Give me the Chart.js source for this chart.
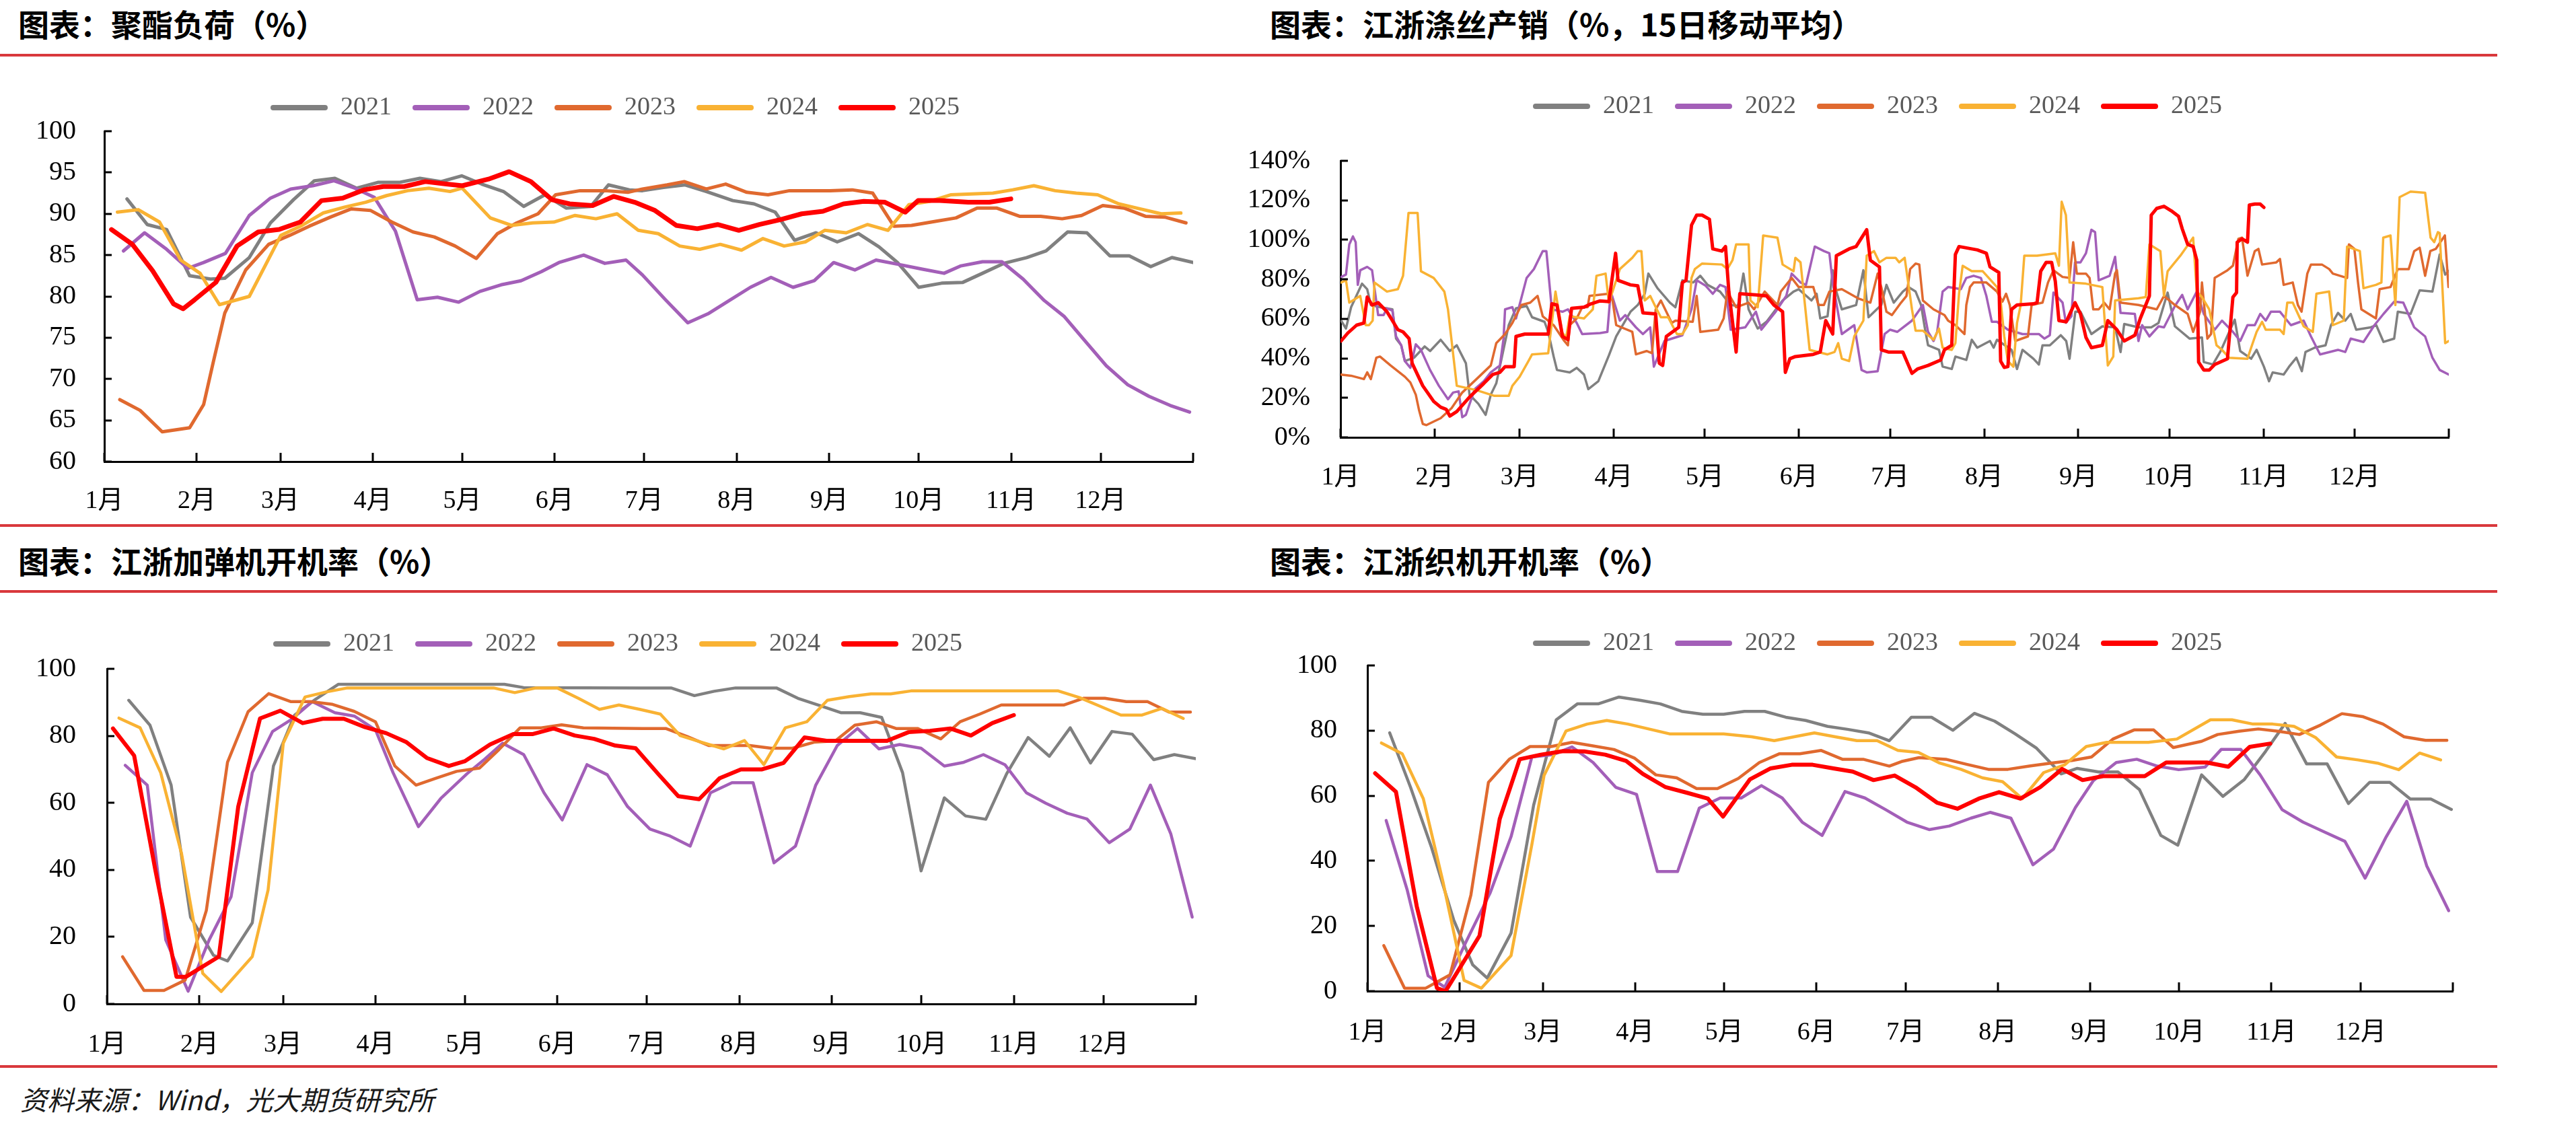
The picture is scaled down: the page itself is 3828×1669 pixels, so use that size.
<!DOCTYPE html>
<html><head><meta charset="utf-8">
<script src="https://cdn.jsdelivr.net/npm/chart.js@4.4.1/dist/chart.umd.min.js"></script>
<style>
html,body{margin:0;padding:0;background:#fff;}
body{width:3828px;height:1669px;position:relative;overflow:hidden;font-family:'Noto Sans CJK SC',sans-serif;}
.title{position:absolute;font-weight:700;font-size:46px;line-height:46px;color:#000;white-space:nowrap;}
.rule{position:absolute;left:0;width:3711px;height:4px;background:#D9383C;}
.src{position:absolute;left:30px;top:1612px;font-size:40px;line-height:42px;font-style:italic;color:#1a1a1a;white-space:nowrap;}
canvas{position:absolute;}
</style></head><body>
<div class="title" style="left:27px;top:11px">图表：聚酯负荷（%）</div>
<div class="title" style="left:1887px;top:11px">图表：江浙涤丝产销（%，15日移动平均）</div>
<div class="title" style="left:27px;top:809px">图表：江浙加弹机开机率（%）</div>
<div class="title" style="left:1887px;top:809px">图表：江浙织机开机率（%）</div>
<div class="rule" style="top:80px"></div>
<div class="rule" style="top:779px"></div>
<div class="rule" style="top:877px"></div>
<div class="rule" style="top:1583px"></div>
<div class="src">资料来源：Wind，光大期货研究所</div>
<canvas id="c1" width="1754" height="676" style="left:47px;top:100px"></canvas>
<canvas id="c2" width="1818" height="640" style="left:1850px;top:100px"></canvas>
<canvas id="c3" width="1767" height="682" style="left:40px;top:900px"></canvas>
<canvas id="c4" width="1796" height="663" style="left:1880px;top:900px"></canvas>
<script>
// ---------- shared ----------
const years = ['2021','2022','2023','2024','2025'];
const yearColors = ['#808080','#A35FB8','#E0692F','#F9B233','#FF0000'];
const monthLabels = ['1月','2月','3月','4月','5月','6月','7月','8月','9月','10月','11月','12月'];
const monthStarts = [0,31,59,90,120,151,181,212,243,273,304,334,365];

// ---------- 聚酯负荷 (%), [day of year, value] ----------
const pl2021 = [[7.6,91.8],[14.4,88.7],[20.9,88.1],[28.6,82.5],[35.6,82.1],[40.4,82.2],[48.6,84.7],[55.7,88.9],[63.4,91.7],[70.4,94.0],[77.3,94.3],[84.6,93.1],[91.7,93.8],[98.8,93.8],[105.8,94.3],[112.9,93.9],[119.8,94.6],[126.5,93.6],[133.8,92.7],[140.6,90.9],[147.7,92.3],[154.8,90.7],[163.1,90.9],[169.0,93.5],[176.0,92.9],[180.4,92.8],[187.5,93.2],[194.7,93.5],[201.8,92.7],[210.7,91.6],[217.8,91.2],[224.9,90.2],[231.4,86.8],[238.6,87.7],[245.7,86.6],[252.8,87.6],[259.7,86.0],[265.9,84.1],[273.0,81.1],[280.7,81.6],[287.8,81.7],[294.4,82.8],[301.5,84.0],[309.2,84.7],[315.7,85.5],[322.9,87.8],[329.4,87.7],[337.1,84.9],[343.6,84.9],[350.8,83.6],[357.9,84.7],[365,84.1]];
const pl2022 = [[6.4,85.5],[13.5,87.7],[20.9,85.7],[28.0,83.4],[33.3,84.1],[40.6,85.2],[48.6,89.8],[55.7,91.9],[62.5,93.0],[69.9,93.4],[77.0,94.0],[84.0,93.1],[90.5,92.0],[97.6,87.9],[104.9,79.6],[111.7,79.9],[118.8,79.3],[125.9,80.6],[133.0,81.4],[139.7,81.9],[146.5,83.0],[152.4,84.1],[160.7,85.0],[167.8,84.0],[174.9,84.4],[180.4,82.6],[188.1,79.6],[195.6,76.8],[202.4,77.9],[209.5,79.5],[216.6,81.1],[223.5,82.3],[230.9,81.1],[238.0,81.9],[244.5,84.1],[251.6,83.2],[258.7,84.4],[265.9,83.9],[274.2,83.3],[281.5,82.8],[287.2,83.7],[294.4,84.2],[300.9,84.2],[308.0,82.1],[315.1,79.5],[321.7,77.6],[328.8,74.6],[335.9,71.6],[343.1,69.3],[350.2,67.9],[357.3,66.8],[363.8,66.0]];
const pl2023 = [[5.2,67.5],[12.0,66.2],[19.4,63.6],[28.6,64.1],[33.3,66.9],[36.5,72.0],[40.4,78.0],[47.4,83.2],[55.1,86.3],[62.2,87.4],[68.7,88.5],[75.8,89.6],[82.8,90.6],[89.3,90.4],[96.4,89.0],[103.5,87.8],[110.6,87.2],[117.6,86.1],[124.7,84.6],[131.8,87.6],[138.3,88.9],[145.4,90.0],[151.3,92.3],[159.5,92.8],[167.8,92.8],[175.5,92.6],[180.4,93.0],[188.7,93.5],[194.4,93.9],[201.8,93.0],[208.3,93.6],[215.4,92.6],[222.5,92.3],[229.7,92.8],[236.8,92.8],[243.3,92.8],[250.7,92.9],[257.6,92.5],[264.7,88.5],[270.6,88.6],[278.9,89.1],[285.5,89.5],[292.6,90.7],[299.1,90.7],[306.8,89.7],[313.9,89.7],[321.1,89.4],[327.6,89.8],[334.7,91.0],[341.8,90.7],[349.0,89.7],[355.5,89.6],[362.6,88.9]];
const pl2024 = [[4.4,90.2],[11.4,90.5],[18.5,89.0],[25.6,84.4],[32.1,82.8],[38.6,79.0],[48.6,80.0],[59.2,87.4],[66.3,88.6],[73.4,90.1],[80.5,90.8],[87.6,91.4],[94.6,92.2],[101.7,92.8],[108.8,93.1],[115.9,92.7],[120.0,93.1],[129.4,89.5],[136.5,88.6],[143.6,88.9],[150.7,89.0],[157.8,89.8],[164.8,89.4],[171.9,90.0],[179.0,88.0],[185.7,87.6],[192.9,86.1],[199.6,85.7],[206.5,86.3],[213.6,85.6],[220.8,87.0],[227.9,86.1],[235.0,86.6],[241.5,88.0],[248.7,87.7],[255.8,88.7],[262.7,88.0],[269.7,91.1],[276.6,91.5],[283.7,92.3],[290.8,92.4],[297.9,92.5],[304.5,92.9],[311.6,93.4],[318.7,92.8],[325.8,92.5],[333.0,92.3],[340.1,91.2],[347.2,90.6],[354.3,90.0],[360.9,90.1]];
const pl2025 = [[2.4,88.1],[9.4,86.3],[16.2,83.1],[23.2,79.1],[26.4,78.5],[30.3,79.6],[37.4,81.7],[44.5,86.1],[51.6,87.8],[58.6,88.1],[65.7,89.0],[72.8,91.6],[79.9,91.9],[87.0,92.9],[93.5,93.3],[100.5,93.3],[107.6,93.9],[114.7,93.6],[120.0,93.4],[128.8,94.2],[135.7,95.1],[143.0,93.9],[150.1,91.7],[156.0,91.2],[163.7,91.0],[170.7,92.1],[177.8,91.4],[184.6,90.4],[191.7,88.6],[198.8,88.2],[205.6,88.7],[212.7,88.0],[219.6,88.7],[226.7,89.3],[233.8,90.0],[240.9,90.3],[247.8,91.2],[254.6,91.5],[261.7,91.4],[268.5,90.2],[272.8,91.6],[280.1,91.6],[289.6,91.4],[296.7,91.4],[303.9,91.8]];

// ---------- 江浙涤丝产销 (%, 15日移动平均) ----------
const sx2021 = [[0.2,59.1],[1.8,55.1],[3.5,65.9],[7.1,77.8],[8.8,75.0],[10.0,67.0],[13.0,65.9],[17.1,64.8],[18.3,50.0],[20.0,46.6],[21.2,38.6],[24.2,40.3],[27.7,46.0],[29.5,43.7],[33.0,49.4],[36.0,43.7],[38.3,46.6],[41.3,37.5],[42.5,21.6],[45.4,17.0],[47.8,11.4],[49.5,21.6],[51.3,27.3],[55.4,56.8],[57.8,65.3],[61.3,66.5],[63.1,60.8],[67.2,58.5],[68.4,53.4],[70.2,40.9],[71.3,34.1],[75.5,32.9],[77.8,35.2],[80.2,31.8],[81.6,24.4],[84.9,28.4],[88.4,41.5],[90.8,51.1],[95.5,63.6],[97.9,67.0],[100.2,72.7],[101.4,82.9],[104.4,75.5],[108.5,68.2],[110.3,65.9],[112.6,79.5],[116.2,78.4],[118.5,81.8],[120.9,77.2],[125.0,73.8],[128.5,67.0],[130.9,66.5],[132.7,82.9],[134.4,64.8],[137.4,55.1],[140.3,58.5],[145.6,69.3],[149.2,73.8],[150.9,75.0],[155.1,69.3],[156.8,72.7],[158.0,60.2],[160.4,61.3],[162.1,84.6],[163.3,73.8],[165.1,64.8],[169.8,67.0],[172.2,84.6],[173.9,60.8],[178.1,67.0],[179.8,77.2],[182.2,68.2],[185.2,73.8],[187.0,76.1],[189.4,73.8],[191.2,67.0],[192.4,55.7],[193.5,46.6],[197.1,44.3],[198.3,35.8],[201.3,34.6],[202.5,40.9],[206.1,39.2],[207.9,49.4],[209.7,45.4],[213.9,48.8],[215.1,45.4],[216.2,49.4],[221.0,44.3],[222.8,34.6],[224.6,44.3],[228.2,39.8],[230.0,36.9],[231.2,46.6],[233.6,46.6],[237.2,51.7],[239.0,48.8],[240.1,39.8],[242.0,63.6],[243.7,63.6],[247.3,52.3],[250.9,56.2],[255.1,55.7],[256.9,43.2],[258.1,57.4],[262.8,55.7],[267.0,55.7],[269.4,57.9],[272.4,73.3],[274.8,56.2],[279.6,50.0],[283.7,50.6],[284.3,38.1],[287.3,36.9],[289.7,43.2],[294.5,59.6],[296.3,43.7],[299.9,39.8],[301.7,44.3],[304.1,35.8],[305.8,28.4],[307.0,32.9],[310.6,31.8],[312.4,35.8],[314.8,40.3],[316.6,33.5],[317.8,43.2],[320.8,45.4],[324.4,46.6],[326.2,56.8],[328.5,63.0],[330.9,59.1],[332.7,62.5],[334.5,54.5],[339.3,55.7],[341.1,56.8],[343.5,48.3],[347.0,50.0],[348.2,63.6],[352.4,62.5],[355.4,74.4],[359.6,73.8],[362.0,92.6],[363.8,82.4],[365,84.3]];
const sx2022 = [[0.2,81.2],[1.8,82.4],[2.9,97.7],[4.1,101.7],[5.0,98.8],[5.7,77.2],[6.5,84.6],[8.8,86.3],[10.4,84.6],[12.4,61.9],[14.2,61.9],[15.3,65.3],[17.1,64.2],[18.3,51.1],[20.0,46.6],[21.2,38.6],[23.0,35.2],[24.8,47.1],[26.5,44.3],[29.5,34.1],[32.4,26.1],[35.4,19.3],[37.1,22.7],[38.9,23.3],[40.1,10.2],[41.3,11.4],[44.2,24.4],[47.2,28.4],[49.5,32.9],[52.5,36.4],[53.7,50.0],[54.2,64.8],[56.6,65.9],[57.8,60.2],[61.3,80.7],[63.7,85.2],[66.6,94.3],[67.8,94.3],[69.6,64.8],[73.1,63.6],[74.9,64.8],[77.8,57.9],[79.6,52.3],[85.5,52.8],[87.9,53.4],[89.0,73.8],[92.0,59.1],[93.8,61.9],[97.3,55.7],[99.6,52.3],[102.0,55.7],[103.2,35.8],[106.7,48.8],[112.6,51.7],[115.6,64.8],[117.3,79.5],[120.3,76.7],[122.6,72.7],[125.0,77.2],[126.8,76.1],[128.5,54.5],[133.3,55.7],[136.8,63.6],[138.6,54.5],[143.3,63.6],[146.8,71.6],[148.6,82.9],[151.5,78.4],[153.3,77.2],[156.2,96.6],[159.2,94.3],[161.0,93.2],[162.1,78.4],[165.1,52.3],[169.2,56.8],[171.6,34.1],[173.3,32.9],[176.9,33.5],[179.2,52.3],[181.0,54.5],[183.4,53.4],[188.2,59.1],[191.8,67.0],[193.5,53.4],[195.3,48.8],[196.5,53.4],[198.3,73.8],[200.1,76.1],[204.3,75.0],[206.1,80.7],[208.5,81.8],[210.9,80.7],[212.7,71.6],[214.5,58.5],[216.2,58.5],[219.8,54.5],[224.6,52.3],[230.0,52.3],[231.8,50.0],[233.6,51.7],[234.8,73.3],[237.8,68.2],[238.9,58.0],[240.7,61.3],[241.9,88.6],[243.7,88.6],[245.5,93.2],[247.3,105.1],[248.5,103.9],[249.7,79.5],[253.3,81.8],[255.1,91.4],[256.9,63.0],[261.6,62.5],[262.8,48.8],[264.0,56.8],[266.4,51.1],[269.4,56.2],[271.2,55.7],[274.8,66.5],[277.2,72.1],[279.0,64.8],[282.0,73.8],[284.3,62.5],[287.9,54.5],[290.3,59.1],[293.9,53.4],[296.3,48.8],[298.7,56.8],[301.1,56.8],[302.9,62.5],[304.7,59.1],[306.4,63.6],[309.4,63.6],[313.0,56.8],[317.2,59.1],[319.6,51.1],[322.6,42.0],[328.5,44.3],[330.9,43.2],[332.7,50.0],[336.9,48.3],[340.5,56.8],[343.5,62.5],[347.0,68.7],[350.0,68.2],[353.6,55.7],[357.2,51.1],[359.6,40.3],[362.0,34.1],[365.0,31.8]];
const sx2023 = [[0.2,31.8],[3.5,31.2],[7.7,29.5],[8.8,32.9],[10.0,29.5],[11.8,40.3],[13.0,40.9],[16.5,36.4],[21.2,30.7],[23.0,27.8],[24.8,21.6],[25.9,13.6],[27.1,6.8],[28.3,6.2],[30.7,8.0],[33.0,9.7],[36.6,14.8],[40.1,22.7],[44.8,29.5],[49.5,36.4],[51.3,47.7],[54.2,52.3],[56.6,57.9],[59.6,67.0],[62.5,68.2],[64.9,71.6],[66.6,61.3],[70.2,56.8],[73.7,48.8],[74.9,46.6],[75.5,56.8],[77.8,60.2],[79.6,65.9],[81.4,65.9],[82.0,71.6],[88.4,72.7],[89.6,69.3],[90.8,56.8],[96.1,53.4],[97.3,42.0],[100.8,43.7],[102.6,42.6],[103.8,64.8],[105.5,69.3],[109.1,57.9],[110.3,59.1],[116.0,58.5],[117.3,71.6],[118.5,53.4],[124.4,54.5],[126.2,60.2],[127.4,73.8],[130.3,65.9],[134.4,68.2],[136.2,64.8],[139.7,73.8],[143.9,67.0],[145.0,73.8],[148.6,80.7],[150.9,76.1],[155.7,76.1],[157.4,67.0],[159.2,67.0],[161.0,73.8],[165.1,75.0],[170.4,70.4],[174.5,68.2],[176.9,82.9],[178.1,76.1],[179.8,63.6],[181.6,61.9],[184.6,68.2],[186.4,71.6],[187.6,85.2],[189.4,88.0],[190.6,87.5],[191.8,69.3],[195.3,64.8],[198.9,61.9],[200.1,59.1],[202.5,56.8],[205.5,52.3],[206.1,67.0],[207.3,76.1],[208.5,78.4],[212.7,78.4],[216.2,73.8],[218.0,68.7],[219.2,72.7],[220.4,67.0],[222.2,48.8],[226.4,51.1],[227.6,67.0],[231.2,68.2],[233.0,78.4],[234.8,84.6],[237.8,81.2],[240.1,80.7],[241.3,98.8],[242.5,82.9],[245.5,82.9],[246.7,80.7],[247.9,64.8],[249.7,64.8],[251.5,68.2],[253.3,64.8],[255.1,82.9],[255.7,84.6],[256.9,68.2],[262.8,67.0],[268.8,64.8],[271.2,71.6],[274.8,67.0],[279.0,62.5],[280.8,53.4],[283.1,63.6],[283.7,78.4],[285.5,50.0],[286.7,52.3],[287.9,80.7],[292.1,84.6],[293.9,86.9],[295.7,100.5],[296.9,101.1],[298.7,81.8],[301.1,94.3],[302.3,95.4],[303.5,87.5],[308.2,88.6],[309.4,90.3],[310.6,77.2],[313.6,78.4],[315.3,67.0],[316.5,63.6],[318.4,82.9],[319.6,87.5],[323.2,87.5],[325.6,85.2],[326.8,82.9],[331.5,80.7],[332.1,97.7],[333.9,95.4],[335.1,78.4],[336.2,64.8],[341.0,60.2],[342.2,75.0],[345.8,76.1],[348.2,85.2],[351.8,85.2],[353.6,94.3],[355.4,96.0],[357.2,81.8],[358.9,94.3],[360.7,95.4],[363.7,102.2],[364.9,76.1]];
const sx2024 = [[0.2,78.4],[1.8,79.5],[2.9,68.2],[6.5,71.6],[8.3,56.8],[9.4,56.8],[10.6,59.1],[11.2,78.4],[15.3,73.8],[18.9,75.0],[20.6,81.8],[22.4,113.6],[25.4,113.6],[26.5,84.1],[30.7,80.7],[34.2,73.8],[35.4,64.8],[36.6,48.8],[38.3,26.1],[44.8,23.9],[50.7,21.0],[55.4,21.0],[56.6,26.1],[59.0,30.7],[61.9,38.6],[63.1,42.0],[68.4,42.6],[69.6,57.9],[70.8,73.8],[73.1,52.8],[74.3,50.6],[75.5,61.3],[80.2,60.2],[83.1,64.8],[84.3,81.8],[87.3,82.9],[88.4,68.2],[92.0,85.2],[96.1,90.9],[97.9,94.3],[99.1,94.3],[100.2,69.3],[102.0,71.6],[103.8,65.9],[105.5,60.8],[107.9,60.8],[110.8,52.3],[112.6,52.3],[114.4,56.8],[115.6,80.7],[116.7,85.2],[119.1,88.0],[125.6,87.5],[127.4,85.2],[129.1,89.7],[130.3,97.7],[134.4,97.7],[135.0,69.3],[137.4,65.9],[139.2,102.2],[143.9,101.1],[145.6,87.5],[149.2,84.1],[149.8,90.9],[151.5,88.6],[154.5,44.3],[160.4,42.0],[162.7,43.2],[163.9,47.7],[165.1,39.8],[167.5,38.6],[169.2,51.1],[172.2,59.1],[173.3,92.0],[175.7,94.3],[177.5,88.6],[179.8,90.9],[182.8,90.9],[184.0,88.6],[185.8,90.9],[188.2,64.8],[189.4,54.0],[191.8,54.0],[195.3,49.4],[197.1,55.1],[198.3,45.4],[201.3,44.3],[202.5,47.7],[203.7,72.7],[204.9,86.9],[207.9,84.1],[211.5,84.1],[216.2,76.1],[217.4,69.3],[218.6,51.1],[219.8,38.6],[221.6,35.8],[222.8,57.9],[224.0,67.0],[225.2,92.0],[229.4,92.0],[235.4,93.2],[236.6,86.9],[237.5,119.3],[238.9,112.5],[240.1,78.4],[245.5,77.8],[250.9,76.1],[252.7,36.4],[254.5,40.9],[255.1,69.3],[262.8,70.4],[265.2,71.0],[266.4,97.7],[270.0,94.3],[271.2,71.6],[272.4,84.1],[276.6,92.0],[280.8,101.1],[282.0,73.8],[283.7,71.0],[286.1,64.8],[288.5,46.6],[290.3,44.3],[292.7,40.3],[298.7,39.8],[299.9,45.4],[301.7,53.4],[303.5,58.5],[304.7,54.5],[309.4,54.5],[310.6,52.3],[311.8,68.2],[313.6,68.2],[317.2,56.2],[320.2,53.4],[321.4,72.7],[325.6,73.8],[326.8,56.8],[330.4,59.1],[331.5,96.6],[335.7,94.3],[336.9,75.5],[341.0,77.2],[342.8,78.4],[343.4,101.1],[345.8,102.2],[347.4,67.0],[348.8,121.6],[352.4,124.4],[357.2,123.8],[359.0,101.1],[360.2,98.8],[361.4,103.9],[362.0,103.4],[363.8,47.7],[365.0,48.8]];
const sx2025 = [[0.2,48.8],[2.4,52.8],[5.3,56.8],[7.7,57.9],[8.8,71.0],[10.4,67.0],[12.4,68.2],[15.3,63.6],[17.1,59.1],[18.9,54.5],[20.6,53.4],[22.6,50.0],[23.6,37.5],[27.1,26.1],[30.7,18.2],[33.0,15.3],[34.8,14.2],[36.0,10.8],[38.3,13.1],[42.5,20.4],[47.2,27.3],[50.1,31.8],[52.5,32.9],[54.2,35.8],[57.2,35.8],[57.8,51.1],[60.7,52.3],[68.4,52.3],[69.6,67.6],[71.3,67.0],[73.1,51.1],[74.9,49.4],[76.1,65.3],[80.2,65.9],[82.5,67.6],[85.5,69.1],[88.4,68.7],[90.6,93.2],[91.4,79.5],[95.5,77.2],[97.9,76.7],[99.6,63.0],[103.8,62.5],[105.0,37.5],[106.1,36.4],[107.3,51.1],[111.4,55.7],[112.6,78.4],[113.8,79.5],[115.6,107.4],[117.3,112.5],[119.1,112.5],[121.5,110.4],[122.6,95.4],[125.6,94.3],[126.8,96.6],[127.9,73.8],[130.3,43.2],[131.5,72.7],[136.8,72.1],[140.3,71.6],[142.7,67.0],[145.6,63.6],[146.5,32.9],[148.0,39.8],[149.8,40.9],[155.7,42.0],[158.0,43.2],[159.8,59.1],[162.1,52.3],[163.3,92.0],[167.5,95.4],[169.8,96.6],[173.3,105.1],[174.5,89.7],[177.5,86.3],[178.1,44.3],[180.4,43.2],[185.2,43.2],[188.2,32.4],[190.0,34.6],[193.5,36.4],[197.7,39.2],[198.9,44.3],[201.3,46.6],[202.5,92.6],[203.7,96.6],[209.7,94.9],[212.7,93.2],[213.9,86.3],[216.8,83.5],[217.4,38.6],[218.6,35.4],[219.8,35.8],[221.0,64.8],[222.8,67.0],[228.2,67.6],[229.4,68.2],[230.6,84.1],[232.4,88.6],[234.2,88.6],[235.4,79.0],[236.6,59.1],[239.0,58.5],[241.9,68.2],[243.7,62.5],[245.5,50.6],[247.3,45.4],[250.9,46.6],[252.7,59.1],[255.7,54.5],[258.1,48.8],[261.6,51.7],[263.4,60.2],[266.4,71.6],[267.0,112.5],[268.8,115.9],[271.2,117.0],[273.6,114.7],[276.0,111.9],[277.2,105.6],[279.0,97.7],[280.8,96.6],[282.0,89.7],[282.6,38.1],[284.3,34.1],[286.1,34.1],[287.9,36.9],[292.1,39.8],[293.9,71.0],[295.1,73.3],[295.3,98.8],[296.9,100.5],[298.7,98.8],[299.3,117.6],[301.1,118.1],[302.9,118.1],[304.1,116.4]];

// ---------- 江浙加弹机开机率 (%) ----------
const tx2021 = [[7.3,90.6],[14.4,83.2],[21.5,65.3],[28.0,25.9],[35.7,14.5],[40.4,12.8],[48.7,24.2],[55.8,71.0],[62.9,86.2],[69.9,90.9],[77.6,95.4],[133.2,95.4],[139.7,94.4],[179.6,94.3],[189.1,94.3],[196.9,92.0],[203.5,93.3],[210.7,94.3],[224.4,94.3],[231.6,91.2],[238.8,89.1],[246.0,86.9],[252.5,86.9],[259.7,85.5],[266.7,69.0],[272.9,39.7],[280.7,61.5],[287.8,56.1],[294.6,55.1],[301.6,68.7],[308.8,79.5],[315.9,73.9],[322.9,82.4],[329.7,71.9],[336.9,81.3],[343.7,80.5],[350.9,72.9],[357.8,74.4],[365,73.2]];
const tx2022 = [[6.1,71.2],[13.5,65.3],[19.7,19.1],[27.2,3.8],[34.3,19.2],[41.6,32.0],[48.7,69.0],[55.5,81.3],[61.7,84.8],[68.8,90.2],[76.4,86.9],[82.9,85.9],[90.0,81.8],[95.9,69.0],[104.4,52.9],[111.9,61.3],[120.7,68.7],[126.7,73.1],[132.6,77.8],[139.7,74.4],[146.5,63.0],[152.6,54.9],[160.9,71.4],[167.7,68.4],[174.5,58.9],[182.0,52.2],[188.5,50.2],[195.5,47.1],[202.3,63.0],[209.5,66.0],[216.6,66.0],[223.6,42.1],[230.8,47.1],[237.6,65.3],[244.8,77.1],[251.6,82.2],[258.8,76.1],[265.7,77.4],[272.9,76.3],[280.7,71.0],[287.2,72.1],[293.8,74.4],[301.0,71.4],[308.2,63.0],[314.7,59.9],[321.9,56.9],[328.5,55.2],[336.0,48.1],[342.9,52.2],[349.8,65.3],[356.6,50.8],[363.8,25.9]];
const tx2023 = [[5.2,14.1],[12.4,4.0],[19.1,4.0],[26.2,7.1],[33.3,27.9],[40.4,72.1],[47.3,87.2],[54.2,92.6],[61.7,90.2],[68.2,90.2],[75.6,89.4],[82.9,87.3],[90.0,84.2],[96.5,71.0],[103.6,65.3],[110.1,67.3],[117.2,69.4],[124.9,70.4],[131.4,75.9],[138.5,82.4],[145.6,82.4],[152.4,83.3],[159.7,82.4],[179.6,82.2],[187.3,82.2],[194.5,79.8],[201.7,77.1],[215.5,77.1],[222.6,76.3],[229.8,76.3],[237.0,78.1],[244.2,78.5],[250.7,83.2],[257.9,84.2],[264.5,82.2],[271.7,82.2],[279.5,79.1],[286.0,84.2],[292.6,86.5],[299.8,89.2],[320.7,89.2],[327.3,91.2],[334.5,91.2],[341.7,90.2],[348.8,90.2],[356.0,87.1],[363.2,87.1]];
const tx2024 = [[4.0,85.3],[11.1,82.4],[18.0,69.0],[25.0,44.8],[32.1,9.1],[38.3,3.7],[48.7,14.1],[54.0,34.0],[59.1,77.8],[66.4,91.6],[73.5,93.1],[80.6,94.3],[129.6,94.3],[136.7,92.9],[143.8,94.3],[150.9,94.3],[158.0,91.2],[165.1,87.9],[171.6,89.2],[178.6,87.9],[185.5,86.5],[192.1,80.1],[199.3,78.1],[206.8,76.1],[213.7,78.6],[220.2,71.4],[227.4,82.4],[234.6,84.2],[241.5,90.6],[248.9,91.7],[256.1,92.5],[262.7,92.5],[269.5,93.4],[318.9,93.4],[326.1,91.4],[332.7,88.9],[339.9,86.2],[347.0,86.2],[353.6,88.2],[360.8,85.2]];
const tx2025 = [[2.0,82.2],[9.1,74.1],[16.2,40.0],[23.3,8.1],[26.5,8.1],[37.5,14.1],[44.0,58.9],[51.3,85.2],[58.1,87.5],[65.6,83.8],[72.3,85.1],[79.4,85.1],[86.5,82.6],[93.6,80.8],[100.4,78.1],[107.2,73.4],[114.6,71.0],[119.9,72.4],[128.4,77.4],[136.1,80.5],[142.6,80.5],[149.7,82.2],[156.8,80.1],[163.3,79.1],[170.4,77.1],[177.2,76.3],[185.0,68.4],[191.5,62.0],[198.5,61.1],[205.3,67.3],[212.5,70.0],[219.6,70.0],[226.8,71.9],[233.8,79.5],[241.2,78.5],[261.5,78.5],[268.7,81.1],[275.9,81.5],[282.7,82.2],[289.6,80.1],[296.8,83.8],[304.0,86.2]];

// ---------- 江浙织机开机率 (%) ----------
const wv2021 = [[7.5,79.3],[14.5,62.6],[21.6,44.0],[29.0,21.9],[35.4,8.1],[40.3,4.0],[48.3,17.8],[55.9,57.1],[63.5,83.3],[70.6,88.2],[77.6,88.2],[84.6,90.3],[91.7,89.3],[98.5,88.2],[105.7,85.9],[112.8,85.0],[119.8,85.0],[126.8,85.9],[133.6,85.9],[140.7,84.1],[147.4,83.1],[154.7,81.3],[161.4,80.4],[168.5,79.3],[175.5,76.9],[182.9,84.1],[189.7,84.1],[196.9,80.1],[204.1,85.3],[210.9,82.9],[217.8,79.0],[225.0,74.6],[233.3,66.7],[238.7,68.4],[245.9,67.3],[252.4,67.3],[259.6,61.9],[266.8,47.8],[272.5,44.8],[280.5,66.4],[287.7,59.8],[294.9,65.0],[302.0,73.6],[308.6,82.2],[315.8,69.8],[322.7,69.8],[329.9,57.6],[337.0,64.1],[343.8,64.1],[350.7,59.0],[357.6,59.0],[364.5,55.8]];
const wv2022 = [[6.3,52.4],[13.4,31.0],[20.4,4.7],[26.0,1.2],[33.1,15.0],[41.3,30.2],[48.3,47.4],[55.3,71.9],[62.4,72.6],[68.8,75.0],[75.9,70.2],[83.5,62.6],[90.5,60.4],[97.5,36.7],[104.3,36.7],[111.6,56.2],[118.6,59.3],[125.7,59.3],[132.5,63.1],[139.5,59.3],[146.2,51.9],[152.9,47.8],[160.6,61.3],[167.3,59.3],[174.3,55.7],[181.4,51.9],[188.9,49.6],[195.7,50.7],[202.9,53.1],[209.4,54.9],[216.4,53.1],[223.8,38.8],[230.7,43.6],[238.1,56.4],[244.1,64.6],[251.8,70.2],[258.7,71.2],[265.6,69.1],[272.8,68.0],[281.7,68.8],[287.1,74.2],[293.7,74.2],[300.2,66.4],[307.6,55.7],[314.6,51.9],[321.7,48.9],[328.7,46.0],[335.5,34.7],[342.6,47.4],[349.5,58.3],[356.2,38.5],[363.6,24.7]];
const wv2023 = [[5.5,14.0],[12.5,0.9],[19.6,0.9],[27.8,5.0],[34.8,29.5],[40.7,64.1],[47.7,71.2],[54.7,75.1],[61.8,75.1],[68.8,76.4],[75.8,75.3],[82.9,74.2],[89.9,71.5],[97.0,66.4],[104.0,65.5],[110.7,62.2],[117.7,62.2],[124.7,65.3],[131.8,70.2],[138.6,72.9],[145.4,72.9],[152.6,73.9],[159.7,71.2],[166.7,71.2],[175.5,69.1],[179.6,70.5],[185.5,71.7],[194.5,71.2],[201.7,69.6],[208.8,68.1],[215.4,68.1],[222.6,69.1],[229.7,70.0],[236.9,70.8],[243.5,71.9],[250.7,77.4],[257.8,80.2],[264.4,80.2],[271.0,74.8],[280.5,76.7],[285.9,78.8],[293.1,79.8],[299.6,80.5],[306.2,79.8],[313.4,78.8],[320.5,81.7],[327.7,85.2],[334.6,84.3],[341.5,82.0],[348.6,78.1],[355.8,77.0],[363.0,77.0]];
const wv2024 = [[4.7,76.2],[11.7,72.9],[18.8,59.1],[25.4,33.6],[32.5,3.3],[38.3,0.9],[48.3,10.9],[55.3,45.0],[59.4,66.2],[66.8,79.9],[73.9,82.0],[80.5,83.1],[87.6,82.0],[94.6,80.5],[101.6,79.0],[119.8,79.0],[129.2,78.1],[136.8,76.9],[143.5,78.1],[150.3,79.3],[157.3,78.1],[164.6,76.9],[171.4,76.9],[178.4,73.9],[185.3,73.3],[192.5,70.0],[199.6,68.1],[206.8,65.5],[213.6,64.3],[220.2,59.1],[227.4,67.1],[234.5,69.5],[241.7,75.1],[248.6,76.4],[262.6,76.4],[272.2,77.4],[283.5,83.3],[290.7,83.3],[297.8,82.0],[304.4,82.0],[311.6,81.3],[318.8,77.9],[325.9,71.9],[333.1,71.0],[339.7,70.0],[346.8,68.0],[353.8,73.1],[360.9,71.0]];
const wv2025 = [[2.6,66.9],[9.6,61.2],[16.6,26.0],[23.4,0.9],[26.3,0.0],[37.7,17.0],[44.5,52.9],[51.2,71.2],[58.3,72.6],[65.9,73.7],[72.9,73.6],[80.0,72.6],[87.0,70.7],[92.6,66.7],[100.1,62.7],[107.5,60.9],[114.5,59.1],[119.6,53.6],[128.6,65.0],[135.6,68.4],[142.7,69.5],[149.7,69.5],[156.7,68.4],[163.2,67.4],[170.2,64.8],[177.3,66.2],[184.3,62.6],[191.5,57.9],[198.4,56.0],[205.6,59.1],[212.4,61.1],[219.6,59.1],[226.2,62.6],[233.6,68.2],[240.5,64.8],[247.4,66.0],[261.4,66.0],[268.6,70.2],[282.3,70.2],[289.5,68.9],[296.7,75.0],[303.6,76.0]];

// ---------- drawing ----------
const SERIF = "'Liberation Serif','Noto Sans CJK SC',serif";
const toXY = a => a.map(p => ({x: p[0], y: p[1]}));

const legendGap = {
  id: 'legendGap',
  beforeInit(chart, args, opts) {
    const lg = chart.legend;
    if (!lg) return;
    const orig = lg.fit;
    lg.fit = function () { orig.call(this); this.height += (opts.extra || 0); };
  },
  afterLayout(chart, args, opts) {
    const lg = chart.legend;
    if (lg && opts.dx) { lg.left += opts.dx; lg.right += opts.dx; }
  }
};
const inTicks = {
  id: 'inTicks',
  afterDraw(chart, args, o) {
    const ctx = chart.ctx, xs = chart.scales.x, ys = chart.scales.y, a = chart.chartArea;
    ctx.save();
    ctx.strokeStyle = '#000';
    ctx.lineWidth = 3;
    ctx.beginPath();
    xs.ticks.forEach(t => { const px = Math.round(xs.getPixelForValue(t.value)); ctx.moveTo(px, a.bottom); ctx.lineTo(px, a.bottom - 13); });
    ys.ticks.forEach(t => { const py = Math.round(ys.getPixelForValue(t.value)); ctx.moveTo(a.left, py); ctx.lineTo(a.left + 11, py); });
    ctx.stroke();
    ctx.restore();
  }
};

function makeChart(id, series, c) {
  const datasets = series.map((s, i) => ({
    label: years[i],
    data: toXY(s),
    borderColor: yearColors[i],
    backgroundColor: yearColors[i],
    borderWidth: i === 4 ? c.redW : c.lineW,
    pointRadius: 0,
    pointHoverRadius: 0,
    tension: 0,
    borderJoinStyle: 'round',
    borderCapStyle: 'round',
    order: 5 - i
  }));
  return new Chart(document.getElementById(id), {
    type: 'line',
    data: { datasets },
    plugins: [legendGap, inTicks],
    options: {
      responsive: false,
      devicePixelRatio: 1,
      animation: false,
      events: [],
      layout: { padding: { left: c.padL, top: c.padT, right: 20, bottom: 10 } },
      plugins: {
        legendGap: { extra: c.extra, dx: c.dx || 0 },
        tooltip: { enabled: false },
        legend: {
          position: 'top',
          labels: {
            boxWidth: 85, boxHeight: 8, padding: 31,
            color: '#595959',
            font: { family: SERIF, size: 38 },
            useBorderRadius: true, borderRadius: 4,
            sort: (a, b) => a.datasetIndex - b.datasetIndex,
            generateLabels(chart) {
              const items = Chart.defaults.plugins.legend.labels.generateLabels(chart);
              items.forEach(it => { it.fillStyle = yearColors[it.datasetIndex]; it.lineWidth = 0; });
              return items;
            }
          }
        }
      },
      scales: {
        x: {
          type: 'linear', min: 0, max: 365,
          afterBuildTicks: s => { s.ticks = monthStarts.map(v => ({ value: v })); },
          afterFit: s => { s.height = 80; },
          grid: { display: false },
          border: { display: true, color: '#000', width: 3 },
          ticks: {
            autoSkip: false, maxRotation: 0, minRotation: 0,
            padding: c.xPad, color: '#000',
            font: { family: SERIF, size: 38 },
            callback: (v, i) => monthLabels[i] || ''
          }
        },
        y: {
          min: c.yMin, max: c.yMax,
          afterFit: s => { s.width = c.yW; },
          grid: { display: false },
          border: { display: true, color: '#000', width: 3 },
          ticks: {
            stepSize: c.yStep, padding: c.yPad, color: '#000',
            font: { family: SERIF, size: 40 },
            callback: v => v + c.suffix
          }
        }
      }
    }
  });
}

makeChart('c1', [pl2021, pl2022, pl2023, pl2024, pl2025],
  { padL: 0, padT: 10, extra: 6, yW: 108, xPad: 28, yPad: 34, yMin: 60, yMax: 100, yStep: 5, suffix: '', lineW: 5, redW: 7 });
makeChart('c2', [sx2021, sx2022, sx2023, sx2024, sx2025],
  { padL: 2, padT: 8, extra: 52, dx: 40, yW: 140, xPad: 29, yPad: 37, yMin: 0, yMax: 140, yStep: 20, suffix: '%', lineW: 3.5, redW: 5 });
makeChart('c3', [tx2021, tx2022, tx2023, tx2024, tx2025],
  { padL: 9, padT: 7, extra: 8, yW: 110, xPad: 30, yPad: 38, yMin: 0, yMax: 100, yStep: 20, suffix: '', lineW: 4.5, redW: 6 });
makeChart('c4', [wv2021, wv2022, wv2023, wv2024, wv2025],
  { padL: 44, padT: 6, extra: 4, yW: 108, xPad: 31, yPad: 37, yMin: 0, yMax: 100, yStep: 20, suffix: '', lineW: 4.5, redW: 6 });
</script>
</body></html>
